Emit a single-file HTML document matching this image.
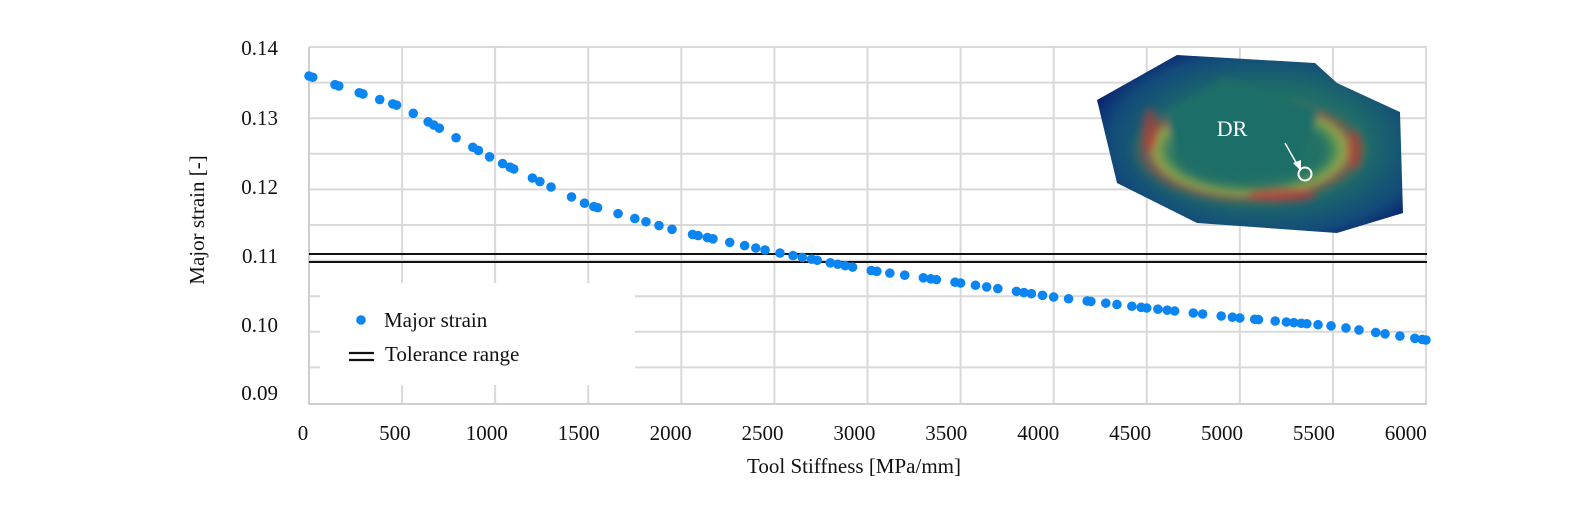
<!DOCTYPE html>
<html><head><meta charset="utf-8"><style>
html,body{margin:0;padding:0;background:#fff;}
svg{display:block;font-family:"Liberation Serif",serif;}
</style></head><body>
<svg id="s" width="1595" height="513" viewBox="0 0 1595 513" xmlns="http://www.w3.org/2000/svg">
<defs>
<radialGradient id="gb" cx="0.55" cy="0.5" r="0.6">
<stop offset="0" stop-color="#2a7a60"/><stop offset="0.55" stop-color="#1d6a6a"/><stop offset="0.85" stop-color="#124a7a"/><stop offset="1" stop-color="#0a2470"/>
</radialGradient>
<radialGradient id="gr" cx="0.5" cy="0.5" r="0.5">
<stop offset="0.6" stop-color="#3aa050" stop-opacity="0"/><stop offset="0.78" stop-color="#b8b840" stop-opacity="0.8"/><stop offset="0.88" stop-color="#b04040" stop-opacity="0.6"/><stop offset="1" stop-color="#50a040" stop-opacity="0"/>
</radialGradient>
<filter id="bl"><feGaussianBlur stdDeviation="4"/></filter>
</defs>
<g id="grid" stroke="#d9d9d9" stroke-width="2"></g>
<line x1="309" y1="47" x2="309" y2="404" stroke="#cfcfcf" stroke-width="2"/>
<line x1="308" y1="404" x2="1427" y2="404" stroke="#cfcfcf" stroke-width="2"/>
<g>
<polygon points="1097,100 1177,55 1315,63 1337,83 1400,112 1403,213 1337,233 1197,223 1117,183" fill="url(#gb)"/>
<g filter="url(#bl)">
<ellipse cx="1250" cy="150" rx="120" ry="56" fill="url(#gr)"/>
<ellipse cx="1150" cy="130" rx="8" ry="22" fill="#c03a30" opacity="0.6"/>
<ellipse cx="1282" cy="195" rx="35" ry="7" fill="#c8303a" opacity="0.6"/>
<ellipse cx="1355" cy="150" rx="7" ry="20" fill="#c03a30" opacity="0.6"/>
<polygon points="1165,115 1225,78 1320,110 1300,170 1230,180 1175,150" fill="#1f6e68"/>
</g>
<text x="1232" y="136" font-size="22" fill="#fff" text-anchor="middle">DR</text>
<line x1="1285" y1="143" x2="1298" y2="166" stroke="#fff" stroke-width="1.5"/>
<polygon points="1301,171 1293,163 1301,160" fill="#fff"/>
<circle cx="1305" cy="174" r="6.5" fill="none" stroke="#fff" stroke-width="2"/>
</g>
<line x1="309" y1="254" x2="1427" y2="254" stroke="#111" stroke-width="2"/>
<line x1="309" y1="262" x2="1427" y2="262" stroke="#111" stroke-width="2"/>
<g id="pts" fill="#0b85f2"></g>
<rect x="320" y="283" width="315" height="102" fill="#fff"/>
<circle cx="361" cy="320" r="4.8" fill="#0b85f2"/>
<text x="384" y="327" font-size="21" fill="#111">Major  strain</text>
<line x1="349" y1="353" x2="374" y2="353" stroke="#111" stroke-width="2.2"/>
<line x1="349" y1="360" x2="374" y2="360" stroke="#111" stroke-width="2.2"/>
<text x="385" y="361" font-size="21" fill="#111">Tolerance range</text>
<g font-size="21" fill="#111" text-anchor="end">
<text x="278" y="55">0.14</text><text x="278" y="125">0.13</text><text x="278" y="194">0.12</text>
<text x="278" y="263">0.11</text><text x="278" y="332">0.10</text><text x="278" y="400">0.09</text>
</g>
<g id="xl" font-size="21" fill="#111" text-anchor="middle"></g>
<text x="854" y="473" font-size="21" fill="#111" text-anchor="middle">Tool Stiffness [MPa/mm]</text>
<text transform="translate(204,220) rotate(-90)" font-size="21" fill="#111" text-anchor="middle">Major strain [-]</text>
</svg>
<script>
var NS="http://www.w3.org/2000/svg";
function el(p,t,a,txt){var e=document.createElementNS(NS,t);for(var k in a)e.setAttribute(k,a[k]);if(txt)e.textContent=txt;p.appendChild(e);return e;}
var g=document.getElementById('grid');
for(var i=0;i<10;i++){var y=47+i*35.6;el(g,'line',{x1:309,x2:1427,y1:y,y2:y});}
for(var i=1;i<=12;i++){var x=309+i*1117/12;el(g,'line',{x1:x,x2:x,y1:47,y2:404});}
var xl=document.getElementById('xl');
for(var i=0;i<=12;i++){el(xl,'text',{x:303+i*91.9,y:440},String(i*500));}
var A=[[0,76],[500,107],[1000,160],[1500,205],[2000,232],[2500,252],[3000,270],[3500,283],[4000,297],[4500,308],[5000,318],[5500,326],[6000,340]];
function f(v){for(var i=0;i<A.length-1;i++){if(v<=A[i+1][0]){var t=(v-A[i][0])/500;return A[i][1]+t*(A[i+1][1]-A[i][1]);}}return 340;}
var xs=[0,20,140,160,270,290,380,450,470,560,640,670,700,790,880,910,970,1040,1080,1100,1200,1240,1300,1410,1480,1530,1550,1660,1750,1810,1880,1950,2060,2090,2140,2170,2260,2340,2400,2450,2530,2600,2650,2700,2730,2800,2840,2880,2920,3020,3050,3120,3200,3300,3340,3370,3470,3500,3580,3640,3700,3800,3840,3880,3940,4000,4080,4180,4200,4280,4340,4420,4470,4500,4560,4610,4650,4750,4800,4900,4960,5000,5080,5100,5190,5250,5290,5330,5360,5420,5490,5570,5640,5730,5780,5860,5940,5980,6000];
var P=document.getElementById('pts');
xs.forEach(function(v){el(P,'circle',{cx:309+v*1117/6000,cy:f(v),r:4.8});});
</script>
</body></html>
